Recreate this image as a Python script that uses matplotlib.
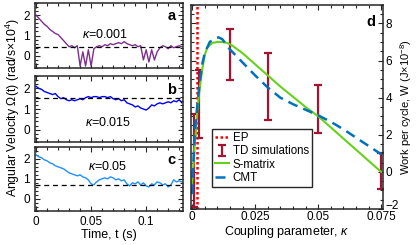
import numpy as np
import matplotlib
matplotlib.use("Agg")
import matplotlib.pyplot as plt
import matplotlib.transforms as mtransforms
from matplotlib.ticker import MultipleLocator

plt.rcParams['font.family'] = ['Liberation Sans', 'DejaVu Sans']
plt.rcParams['mathtext.fontset'] = 'custom'
plt.rcParams['mathtext.rm'] = 'Liberation Sans'
plt.rcParams['mathtext.it'] = 'Liberation Sans:italic'
plt.rcParams['font.size'] = 8.5

# ---- data: panels a-c (angular velocity, x10^4 rad/s) ----
t = np.linspace(0, 0.1325, 54)
omega_a = [2.0, 1.85, 1.7, 1.55, 1.45, 1.3, 1.2, 1.1, 1.05, 0.9, 0.75, 0.6, 0.45, 0.5,
           0.4, 0.5, -0.5, 0.2, -0.5, 0.3, -0.5, 0.35, 0.45, 0.5, 0.45, 0.55, 0.5, 0.6,
           0.55, 0.6, 0.65, 0.6, 0.7, 0.6, 0.55, 0.5, 0.55, 0.45, 0.5, -0.2, 0.3, -0.3,
           0.3, -0.2, 0.2, 0.4, 0.5, 0.45, 0.35, 0.5, 0.4, 0.45, 0.5, 0.45]
omega_b = [2.1, 2.0, 1.95, 1.85, 1.8, 1.75, 1.7, 1.75, 1.6, 1.5, 1.55, 1.45, 1.4, 1.45,
           1.4, 1.45, 1.5, 1.45, 1.55, 1.6, 1.55, 1.6, 1.6, 1.55, 1.6, 1.6, 1.55, 1.6,
           1.5, 1.45, 1.5, 1.4, 1.45, 1.3, 1.25, 1.2, 1.1, 1.15, 1.05, 1.0, 0.95, 1.05,
           1.2, 1.15, 1.25, 1.3, 1.25, 1.3, 1.35, 1.3, 1.4, 1.35, 1.45, 1.3]
omega_c = [2.2, 2.1, 2.05, 1.95, 1.9, 1.8, 1.75, 1.65, 1.6, 1.55, 1.5, 1.4, 1.3, 1.25,
           1.2, 1.15, 1.2, 1.1, 1.05, 0.95, 0.75, 0.7, 0.85, 0.95, 1.0, 1.05, 1.0, 1.1,
           1.05, 0.95, 1.0, 0.9, 0.95, 0.75, 0.65, 0.8, 0.75, 0.85, 0.7, 0.8, 0.65, 0.6,
           0.75, 0.7, 0.85, 0.8, 0.7, 0.75, 0.6, 0.7, 0.95, 0.85, 0.9, 0.85]
steady = [0.45, 1.55, 0.7]
kappa_labels = [r'$\it{\kappa}$=0.001', r'$\it{\kappa}$=0.015', r'$\it{\kappa}$=0.05']
panel_letters = ['a', 'b', 'c']
trace_colors = ['#7E2F8E', '#0000FF', '#1E90FF']

# ---- data: panel d (work per cycle, x10^-8 J) ----
ep_kappa = 0.002
td_kappa = [0.0008, 0.0026, 0.015, 0.03, 0.05, 0.075]
td_low = [-1.9, 1.8, 4.95, 2.8, 2.1, -0.9]
td_high = [3.1, 5.5, 7.7, 6.4, 4.7, 1.0]
smat_kappa = [0, 0.0005, 0.001, 0.0015, 0.002, 0.003, 0.004, 0.005, 0.006, 0.008, 0.010,
              0.012, 0.014, 0.016, 0.02, 0.025, 0.03, 0.035, 0.04, 0.045, 0.05, 0.055,
              0.06, 0.065, 0.07, 0.075]
smat_w = [-0.6, 0.3, 1.4, 2.2, 3.2, 4.5, 5.5, 6.3, 6.7, 6.95, 7.0, 7.0, 6.95, 6.8, 6.4,
          5.8, 5.2, 4.6, 4.05, 3.5, 3.0, 2.4, 1.8, 1.2, 0.6, 0.0]
cmt_kappa = [0, 0.0005, 0.001, 0.0015, 0.002, 0.003, 0.004, 0.005, 0.007, 0.009, 0.0105,
             0.012, 0.015, 0.02, 0.025, 0.03, 0.035, 0.04, 0.045, 0.05, 0.055, 0.06,
             0.065, 0.07, 0.075]
cmt_w = [-1.2, 0.5, 1.9, 2.8, 3.5, 4.8, 5.8, 6.4, 7.0, 7.2, 7.25, 7.15, 6.6, 5.9, 5.2,
         4.55, 4.0, 3.65, 3.35, 3.05, 2.7, 2.3, 1.85, 1.4, 0.95]

spine_col = '#262626'


def style_axes(ax):
    for s in ax.spines.values():
        s.set_color(spine_col)
        s.set_linewidth(1.1)
    ax.tick_params(which='both', direction='in', top=True, right=True, color=spine_col)
    ax.tick_params(which='major', length=3.5, width=0.8)
    ax.tick_params(which='minor', length=2, width=0.8)


fig = plt.figure(figsize=(4.16, 2.45), dpi=100)

rows = [(0.084, 0.722, 0.356, 0.266), (0.084, 0.420, 0.356, 0.270), (0.084, 0.139, 0.356, 0.262)]
text_pos = [(0.32, 0.52), (0.34, 0.29), (0.36, 0.69)]
for i, rect in enumerate(rows):
    ax = fig.add_axes(rect)
    omega = [omega_a, omega_b, omega_c][i]
    ax.plot(t, omega, color=trace_colors[i], lw=1.0)
    ax.axhline(steady[i], color='black', lw=0.9, ls=(0, (4, 3)))
    ax.set_xlim(-0.001, 0.1335)
    ax.set_ylim(-0.6, 2.6)
    ax.set_yticks([0, 1, 2])
    ax.set_xticks([0, 0.05, 0.1])
    ax.xaxis.set_minor_locator(MultipleLocator(0.01))
    ax.yaxis.set_minor_locator(MultipleLocator(0.2))
    style_axes(ax)
    if i < 2:
        ax.set_xticklabels([])
    else:
        ax.set_xticklabels(['0', '0.05', '0.1'])
        ax.set_xlabel('Time, t (s)', fontsize=9, labelpad=1)
    ax.text(0.95, 0.9, panel_letters[i], transform=ax.transAxes, ha='right', va='top',
            fontsize=10.5, fontweight='bold')
    ax.text(text_pos[i][0], text_pos[i][1], kappa_labels[i], transform=ax.transAxes,
            ha='left', va='center', fontsize=9)

fig.text(0.03, 0.56, r'Angular Velocity $\it{\Omega}$(t) (rad/s$\times$10$^4$)',
         rotation=90, ha='center', va='center', fontsize=8.8)

# ---- panel d ----
axd = fig.add_axes((0.46, 0.147, 0.461, 0.833))
td_mid = [(lo + hi) / 2 for lo, hi in zip(td_low, td_high)]
td_err = [(hi - lo) / 2 for lo, hi in zip(td_low, td_high)]
h_ep = axd.axvline(ep_kappa, color='#FF0000', lw=1.8, ls=(0, (1, 1)), label='EP')
h_td = axd.errorbar(td_kappa, td_mid, yerr=td_err, fmt='none', ecolor='#A2142F',
                    elinewidth=1.6, capsize=3, capthick=1.6, label='TD simulations')
h_sm, = axd.plot(smat_kappa, smat_w, color='#66D11A', lw=1.5, label='S-matrix')
h_cm, = axd.plot(cmt_kappa, cmt_w, color='#0072BD', lw=1.8, ls=(0, (4, 2.5)), label='CMT')
axd.set_xlim(-0.0003, 0.0758)
axd.set_ylim(-2, 9)
axd.set_xticks([0, 0.025, 0.05, 0.075])
axd.set_xticklabels(['0', '0.025', '0.05', '0.075'])
axd.set_yticks([-2, 0, 2, 4, 6, 8])
axd.xaxis.set_minor_locator(MultipleLocator(0.005))
axd.yaxis.set_minor_locator(MultipleLocator(0.5))
style_axes(axd)
axd.yaxis.tick_right()
axd.tick_params(which='both', left=True, right=True, labelleft=False, labelright=True, pad=1.5)
axd.yaxis.set_label_position('right')
axd.set_ylabel(r'Work per cycle, W (J$\times$10$^{-8}$)', fontsize=8.0, labelpad=0)
axd.set_xlabel(r'Coupling parameter, $\it{\kappa}$', fontsize=9, labelpad=1)
axd.text(0.96, 0.95, 'd', transform=axd.transAxes, ha='right', va='top',
         fontsize=10.5, fontweight='bold')
# nudge the -2 label up a little so it clears 0.075
lbl = axd.get_yticklabels()[0]
lbl.set_transform(lbl.get_transform() + mtransforms.ScaledTranslation(0, 3 / 72, fig.dpi_scale_trans))
leg = axd.legend([h_ep, h_td, h_sm, h_cm], ['EP', 'TD simulations', 'S-matrix', 'CMT'],
                 loc='lower left', bbox_to_anchor=(0.11, 0.11), fontsize=8.3,
                 handlelength=1.2, handletextpad=0.3, borderpad=0.25, labelspacing=0.1,
                 fancybox=False, framealpha=1, edgecolor=spine_col, borderaxespad=0)
leg.get_frame().set_linewidth(1.0)

fig.savefig('out.png', dpi=100)
